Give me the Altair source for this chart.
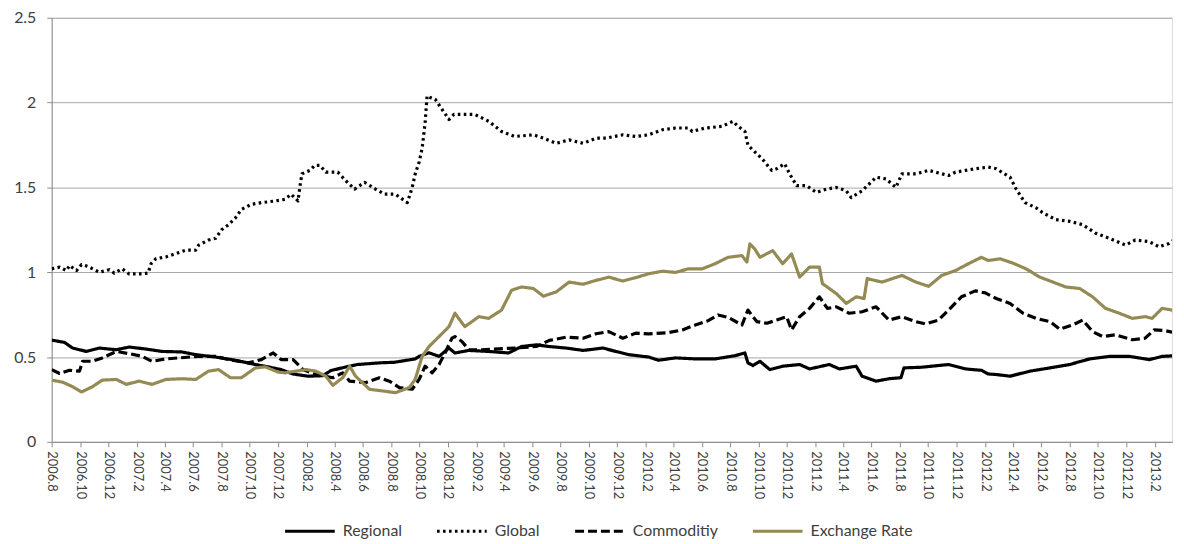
import altair as alt
import pandas as pd

# months elapsed since 2006-08-01 and index values
global_m = [0, 0.56, 1.05, 1.26, 1.76, 2.11, 2.53, 3.37, 4.08, 4.43, 4.99, 5.48, 6.40, 6.82, 7.03, 7.38,
            8.08, 8.78, 9.49, 10.19, 10.40, 11.10, 11.60, 12.02, 12.51, 13.0, 13.42, 14.13, 14.83, 15.81,
            16.51, 16.94, 17.43, 17.57, 17.71, 18.27, 18.62, 18.97, 19.40, 20.24, 20.80, 21.43, 22.14,
            22.91, 23.54, 24.32, 25.16, 25.51, 25.72, 26.0, 26.21, 26.42, 26.56, 26.77, 27.13, 27.62,
            28.11, 28.46, 29.02, 29.94, 30.92, 31.83, 32.75, 34.08, 34.79, 35.70, 36.61, 37.60, 38.51,
            39.21, 40.41, 41.32, 42.24, 43.22, 44.13, 45.05, 45.33, 46.24, 47.43, 48.21, 48.56, 49.05,
            49.26, 49.61, 50.25, 50.95, 51.30, 51.86, 52.21, 52.71, 53.41, 54.11, 54.81, 55.52, 56.22,
            56.57, 57.34, 58.33, 59.03, 59.73, 60.16, 61.14, 62.05, 63.46, 63.95, 65.35, 66.27, 66.83,
            67.81, 68.24, 68.87, 69.64, 70.13, 71.05, 72.03, 72.95, 73.86, 74.84, 75.97, 76.67, 77.66,
            78.36, 79.06, 79.55]
global_v = [1.02, 1.03, 1.01, 1.04, 1.01, 1.045, 1.035, 1.0, 1.015, 0.995, 1.02, 0.99, 0.99, 0.995, 1.05, 1.08,
            1.09, 1.11, 1.13, 1.13, 1.16, 1.19, 1.20, 1.25, 1.28, 1.32, 1.37, 1.40, 1.41, 1.42,
            1.43, 1.46, 1.42, 1.51, 1.58, 1.60, 1.63, 1.63, 1.59, 1.59, 1.54, 1.49, 1.53,
            1.49, 1.46, 1.46, 1.41, 1.50, 1.58, 1.65, 1.73, 1.88, 2.04, 2.03, 2.02, 1.96,
            1.90, 1.93, 1.93, 1.93, 1.89, 1.83, 1.80, 1.81, 1.79, 1.76, 1.78, 1.76, 1.79,
            1.79, 1.81, 1.80, 1.81, 1.84, 1.85, 1.85, 1.83, 1.85, 1.86, 1.89, 1.86, 1.83,
            1.75, 1.72, 1.67, 1.60, 1.61, 1.64, 1.58, 1.51, 1.51, 1.47, 1.49, 1.50, 1.48,
            1.44, 1.48, 1.56, 1.55, 1.50, 1.58, 1.58, 1.60, 1.57, 1.59, 1.61, 1.62, 1.61,
            1.56, 1.49, 1.41, 1.38, 1.35, 1.31, 1.30, 1.28, 1.23, 1.20, 1.16, 1.19, 1.18,
            1.15, 1.17, 1.20]

regional_m = [0, 0.91, 1.48, 2.46, 3.37, 4.57, 5.48, 6.68, 7.80, 9.21, 10.19, 11.60, 13.0, 14.41, 15.32,
              16.23, 17.08, 18.13, 19.18, 19.75, 20.73, 21.64, 23.26, 24.24, 25.72, 26.0, 26.70, 27.41,
              28.11, 28.53, 29.52, 30.92, 32.33, 33.24, 34.29, 35.21, 36.40, 37.60, 39.0, 39.92, 40.83,
              42.24, 42.94, 44.13, 45.54, 46.94, 48.35, 49.05, 49.26, 49.61, 50.11, 50.81, 51.72, 52.92,
              53.62, 55.02, 55.73, 56.92, 57.34, 58.33, 59.24, 60.09, 60.30, 61.56, 63.46, 64.65, 65.78,
              66.27, 66.83, 67.81, 69.22, 70.63, 72.03, 73.44, 74.84, 76.25, 77.66, 78.57, 79.55]
regional_v = [0.60, 0.586, 0.553, 0.533, 0.553, 0.543, 0.559, 0.547, 0.533, 0.530, 0.514, 0.50, 0.481, 0.456, 0.442,
              0.426, 0.40, 0.387, 0.39, 0.42, 0.44, 0.456, 0.466, 0.469, 0.489, 0.504, 0.525, 0.504,
              0.553, 0.524, 0.539, 0.533, 0.524, 0.562, 0.572, 0.562, 0.553, 0.539, 0.553, 0.533, 0.514,
              0.50, 0.481, 0.495, 0.489, 0.489, 0.508, 0.524, 0.466, 0.45, 0.475, 0.426, 0.446, 0.456,
              0.430, 0.456, 0.43, 0.446, 0.387, 0.358, 0.372, 0.378, 0.436, 0.44, 0.456, 0.43, 0.422,
              0.40, 0.397, 0.387, 0.417, 0.436, 0.456, 0.489, 0.504, 0.504, 0.485, 0.504, 0.508]

commodity_m = [0, 0.56, 1.26, 1.97, 2.18, 2.88, 3.58, 4.57, 5.48, 6.40, 7.10, 8.08, 9.0, 10.40, 11.60,
               12.51, 13.91, 14.83, 15.67, 16.23, 17.08, 17.78, 18.69, 19.89, 20.59, 21.08, 22.21, 23.19,
               23.89, 24.60, 25.51, 26.0, 26.42, 26.92, 27.41, 27.83, 28.32, 28.53, 29.02, 29.52, 30.43,
               32.75, 34.29, 35.21, 36.40, 37.60, 38.51, 39.42, 40.41, 41.32, 42.24, 43.64, 44.62, 45.54,
               46.45, 47.15, 47.86, 48.84, 49.26, 49.61, 49.89, 50.60, 51.30, 52.0, 52.35, 52.92, 53.62,
               54.32, 54.88, 55.52, 56.43, 57.34, 58.33, 59.24, 60.16, 61.14, 61.84, 62.75, 63.46, 64.37,
               65.35, 66.06, 66.83, 67.81, 68.73, 69.64, 70.63, 71.33, 72.24, 72.95, 73.65, 74.35, 75.26,
               76.46, 77.37, 78.0, 78.78, 79.55]
commodity_v = [0.426, 0.403, 0.422, 0.417, 0.475, 0.475, 0.495, 0.533, 0.52, 0.504, 0.475, 0.489, 0.495, 0.504, 0.504,
               0.485, 0.466, 0.485, 0.524, 0.485, 0.485, 0.426, 0.397, 0.378, 0.407, 0.358, 0.349, 0.378,
               0.358, 0.320, 0.31, 0.368, 0.446, 0.407, 0.456, 0.524, 0.611, 0.621, 0.592, 0.543, 0.543,
               0.553, 0.562, 0.598, 0.617, 0.611, 0.637, 0.650, 0.611, 0.641, 0.637, 0.644, 0.66, 0.689,
               0.714, 0.748, 0.734, 0.689, 0.777, 0.738, 0.709, 0.699, 0.718, 0.738, 0.66, 0.738, 0.787,
               0.855, 0.787, 0.796, 0.758, 0.767, 0.796, 0.718, 0.738, 0.709, 0.695, 0.718, 0.777, 0.855,
               0.89, 0.878, 0.845, 0.816, 0.758, 0.728, 0.709, 0.664, 0.689, 0.718, 0.650, 0.621, 0.631,
               0.602, 0.611, 0.66, 0.656, 0.641]

exchange_m = [0, 0.77, 1.48, 2.11, 2.88, 3.58, 4.57, 5.27, 6.18, 7.10, 8.08, 9.21, 10.19, 11.10, 11.81,
              12.65, 13.42, 14.41, 15.11, 16.02, 16.51, 17.29, 17.99, 18.69, 19.40, 19.89, 20.59, 21.08,
              21.50, 22.49, 23.40, 24.32, 25.30, 25.72, 26.21, 26.70, 27.41, 28.11, 28.53, 29.23, 30.22,
              30.92, 31.83, 32.54, 33.24, 34.08, 34.79, 35.70, 36.61, 37.60, 38.51, 39.42, 40.41, 41.32,
              42.24, 43.22, 44.13, 45.05, 46.03, 46.94, 47.86, 48.84, 49.19, 49.40, 49.75, 50.11, 51.02,
              51.72, 52.35, 52.92, 53.62, 54.32, 54.53, 55.52, 56.22, 56.92, 57.48, 57.70, 58.75, 60.16,
              61.14, 62.05, 62.97, 63.95, 64.86, 65.78, 66.27, 67.11, 68.03, 68.94, 69.92, 70.84, 71.75,
              72.74, 73.65, 74.56, 75.54, 76.46, 77.37, 77.86, 78.57, 79.27, 79.55]
exchange_v = [0.364, 0.352, 0.325, 0.294, 0.325, 0.364, 0.368, 0.339, 0.358, 0.339, 0.368, 0.372, 0.368, 0.417, 0.426,
              0.378, 0.378, 0.436, 0.442, 0.411, 0.407, 0.417, 0.426, 0.417, 0.387, 0.333, 0.378, 0.446,
              0.387, 0.31, 0.30, 0.29, 0.32, 0.368, 0.504, 0.562, 0.621, 0.679, 0.758, 0.679, 0.738,
              0.728, 0.777, 0.894, 0.913, 0.904, 0.859, 0.884, 0.942, 0.929, 0.952, 0.971, 0.948, 0.968,
              0.991, 1.006, 0.999, 1.02, 1.02, 1.05, 1.088, 1.098, 1.06, 1.167, 1.137, 1.088, 1.127,
              1.05, 1.108, 0.971, 1.03, 1.03, 0.933, 0.874, 0.816, 0.855, 0.845, 0.962, 0.942, 0.981,
              0.942, 0.917, 0.981, 1.01, 1.05, 1.088, 1.069, 1.079, 1.053, 1.02, 0.971, 0.942, 0.913,
              0.904, 0.855, 0.787, 0.758, 0.728, 0.738, 0.728, 0.787, 0.777, 0.748]

series_names = ["Regional", "Global", "Commoditiy", "Exchange Rate"]
series_colors = ["#000000", "#000000", "#000000", "#948A54"]
series_dashes = [[1, 0], [2.6, 3.4], [9, 4], [1, 0]]
series_widths = [3.2, 3.2, 3.6, 3.8]

start = pd.Timestamp("2006-08-01")
MS_PER_MONTH = 30.4375 * 86400000
start_ms = start.value // 10**6


def to_ms(months):
    return [start_ms + m * MS_PER_MONTH for m in months]


frames = []
for name, ms, vs in [("Regional", regional_m, regional_v), ("Global", global_m, global_v),
                     ("Commoditiy", commodity_m, commodity_v), ("Exchange Rate", exchange_m, exchange_v)]:
    frames.append(pd.DataFrame({"t": to_ms(ms), "v": vs, "series": name}))
df = pd.concat(frames, ignore_index=True)

tick_ms = [pd.Timestamp(year=2006 + (7 + 2 * i) // 12, month=(7 + 2 * i) % 12 + 1, day=1).value // 10**6
           for i in range(40)]
domain_end = start_ms + 79.27 * MS_PER_MONTH

FONT = "Lato"

legend_kw = dict(title=None, orient="none", legendX=233, legendY=490,
                 direction="horizontal", symbolType="stroke", symbolSize=2500,
                 symbolStrokeWidth=3.5, labelFontSize=16, labelFont=FONT,
                 labelColor="#404040", labelOffset=6, columnPadding=28)

x_enc = alt.X("t:T", title=None,
              scale=alt.Scale(domain=[start_ms, domain_end], nice=False),
              axis=alt.Axis(values=tick_ms, labelAngle=90, labelAlign="left", labelBaseline="middle",
                            labelExpr="utcyear(datum.value) + '.' + (utcmonth(datum.value) + 1)",
                            labelFontSize=13, labelFont=FONT, labelColor="#404040", labelPadding=4,
                            tickSize=5, tickColor="#8c8c8c", domainColor="#8c8c8c", grid=False,
                            labelOverlap=False, labelFlush=False))
y_enc = alt.Y("v:Q", title=None,
              scale=alt.Scale(domain=[0, 2.5], nice=False, zero=True),
              axis=alt.Axis(values=[0, 0.5, 1, 1.5, 2, 2.5], labelExpr="'' + datum.value",
                            labelFontSize=16, labelFont=FONT, labelColor="#404040", labelPadding=11,
                            tickSize=5, tickColor="#8c8c8c", domainColor="#8c8c8c",
                            grid=True, gridColor="#a6a6a6", gridWidth=1))
color_enc = alt.Color("series:N", scale=alt.Scale(domain=series_names, range=series_colors),
                      legend=alt.Legend(**legend_kw))
dash_enc = alt.StrokeDash("series:N", scale=alt.Scale(domain=series_names, range=series_dashes),
                          legend=alt.Legend(**legend_kw))
width_enc = alt.StrokeWidth("series:N", scale=alt.Scale(domain=series_names, range=series_widths),
                            legend=None)

base = alt.Chart(df).mark_line(strokeCap="butt", strokeJoin="round", clip=True).encode(
    x=x_enc, y=y_enc, color=color_enc, strokeDash=dash_enc, strokeWidth=width_enc
)

layers = [base.transform_filter(alt.datum.series == n) for n in series_names]

chart = alt.layer(*layers).properties(
    width=1128, height=427,
    autosize=alt.AutoSizeParams(type="none"),
    padding={"left": 44, "top": 8, "right": 4, "bottom": 100},
).configure_view(stroke=None).configure(background="white")

chart.save("out.html", embed_options={"renderer": "svg", "actions": False})
